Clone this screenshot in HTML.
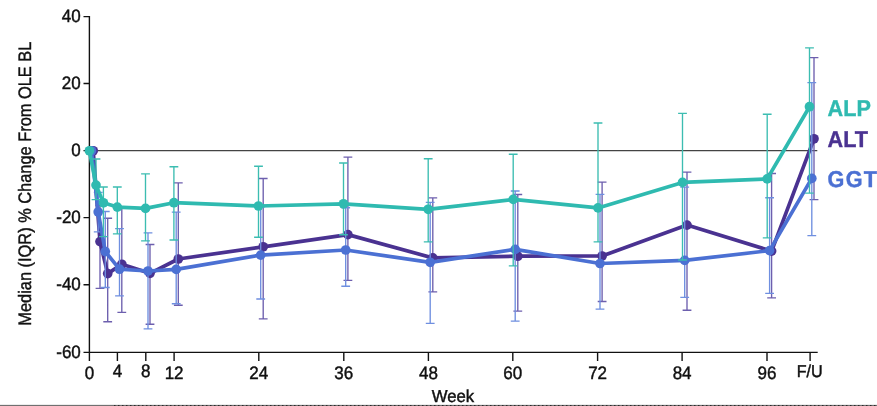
<!DOCTYPE html>
<html><head><meta charset="utf-8"><title>Chart</title>
<style>html,body{margin:0;padding:0;background:#fff;}body{width:877px;height:406px;position:relative;overflow:hidden;}</style>
</head><body>
<svg width="877" height="406" viewBox="0 0 877 406" style="position:absolute;left:0;top:0">
<line x1="89.4" y1="150.65" x2="817.3" y2="150.65" stroke="#444" stroke-width="1.3"/>
<path d="M89.4 15.95V353.1M83.5 352.4H817.7M83.5 16.65H89.4M83.5 83.55H89.4M83.5 150.6H89.4M83.5 217.65H89.4M83.5 284.8H89.4M89.4 352.4V360.9M117.4 352.4V360.9M145.8 352.4V360.9M174.1 352.4V360.9M258.8 352.4V360.9M343.8 352.4V360.9M428.4 352.4V360.9M512.8 352.4V360.9M597.6 352.4V360.9M682.1 352.4V360.9M767.0 352.4V360.9M810.1 352.4V360.9" fill="none" stroke="#111" stroke-width="1.4"/>
<path d="M100.0 205.3V288.4M95.6 205.3h8.8M95.6 288.4h8.8M107.7 218.2V321.7M103.3 218.2h8.8M103.3 321.7h8.8M121.8 208.3V312.4M117.4 208.3h8.8M117.4 312.4h8.8M150.0 244.5V324.2M145.6 244.5h8.8M145.6 324.2h8.8M178.3 182.8V305.2M173.9 182.8h8.8M173.9 305.2h8.8M263.2 178.5V318.9M258.8 178.5h8.8M258.8 318.9h8.8M347.9 157.1V280.4M343.5 157.1h8.8M343.5 280.4h8.8M432.8 197.9V291.8M428.4 197.9h8.8M428.4 291.8h8.8M517.8 194.5V311.1M513.4 194.5h8.8M513.4 311.1h8.8M602.1 182.1V301.5M597.7 182.1h8.8M597.7 301.5h8.8M687.0 172.1V310.2M682.6 172.1h8.8M682.6 310.2h8.8M771.6 173.5V297.8M767.2 173.5h8.8M767.2 297.8h8.8M814.0 57.6V199.6M809.6 57.6h8.8M809.6 199.6h8.8" fill="none" stroke="#6d5fae" stroke-width="1.35"/>
<polyline points="93.2,150.8 100.0,241.6 107.7,273.6 121.8,264.3 150.0,273.3 178.3,259.0 263.2,246.8 347.9,234.6 432.8,257.9 517.8,256.2 602.1,256.0 687.0,225.1 771.6,251.1 814.0,138.8" fill="none" stroke="#4a3291" stroke-width="3.7" stroke-linejoin="round" stroke-linecap="round"/>
<circle cx="93.2" cy="150.8" r="4.85" fill="#4a3291"/>
<circle cx="100.0" cy="241.6" r="4.85" fill="#4a3291"/>
<circle cx="107.7" cy="273.6" r="4.85" fill="#4a3291"/>
<circle cx="121.8" cy="264.3" r="4.85" fill="#4a3291"/>
<circle cx="150.0" cy="273.3" r="4.85" fill="#4a3291"/>
<circle cx="178.3" cy="259.0" r="4.85" fill="#4a3291"/>
<circle cx="263.2" cy="246.8" r="4.85" fill="#4a3291"/>
<circle cx="347.9" cy="234.6" r="4.85" fill="#4a3291"/>
<circle cx="432.8" cy="257.9" r="4.85" fill="#4a3291"/>
<circle cx="517.8" cy="256.2" r="4.85" fill="#4a3291"/>
<circle cx="602.1" cy="256.0" r="4.85" fill="#4a3291"/>
<circle cx="687.0" cy="225.1" r="4.85" fill="#4a3291"/>
<circle cx="771.6" cy="251.1" r="4.85" fill="#4a3291"/>
<circle cx="814.0" cy="138.8" r="4.85" fill="#4a3291"/>
<path d="M98.2 192.3V231.8M93.8 192.3h8.8M93.8 231.8h8.8M105.3 211.5V287.5M100.9 211.5h8.8M100.9 287.5h8.8M119.5 228.6V295.8M115.1 228.6h8.8M115.1 295.8h8.8M148.0 232.8V328.8M143.6 232.8h8.8M143.6 328.8h8.8M176.2 212.1V303.7M171.8 212.1h8.8M171.8 303.7h8.8M260.7 206.8V299.0M256.3 206.8h8.8M256.3 299.0h8.8M345.7 207.7V286.2M341.3 207.7h8.8M341.3 286.2h8.8M430.2 202.4V323.3M425.8 202.4h8.8M425.8 323.3h8.8M515.2 191.0V321.1M510.8 191.0h8.8M510.8 321.1h8.8M600.0 194.3V309.1M595.6 194.3h8.8M595.6 309.1h8.8M684.7 187.1V297.4M680.3 187.1h8.8M680.3 297.4h8.8M769.6 197.7V293.3M765.2 197.7h8.8M765.2 293.3h8.8M811.8 82.6V235.6M807.4 82.6h8.8M807.4 235.6h8.8" fill="none" stroke="#6f8fe0" stroke-width="1.35"/>
<polyline points="91.5,150.8 98.2,212.0 105.3,251.6 119.5,269.2 148.0,271.0 176.2,269.4 260.7,255.1 345.7,250.0 430.2,262.3 515.2,249.4 600.0,263.5 684.7,260.4 769.6,250.6 811.8,178.4" fill="none" stroke="#4b70d3" stroke-width="3.7" stroke-linejoin="round" stroke-linecap="round"/>
<circle cx="91.5" cy="150.8" r="4.85" fill="#4b70d3"/>
<circle cx="98.2" cy="212.0" r="4.85" fill="#4b70d3"/>
<circle cx="105.3" cy="251.6" r="4.85" fill="#4b70d3"/>
<circle cx="119.5" cy="269.2" r="4.85" fill="#4b70d3"/>
<circle cx="148.0" cy="271.0" r="4.85" fill="#4b70d3"/>
<circle cx="176.2" cy="269.4" r="4.85" fill="#4b70d3"/>
<circle cx="260.7" cy="255.1" r="4.85" fill="#4b70d3"/>
<circle cx="345.7" cy="250.0" r="4.85" fill="#4b70d3"/>
<circle cx="430.2" cy="262.3" r="4.85" fill="#4b70d3"/>
<circle cx="515.2" cy="249.4" r="4.85" fill="#4b70d3"/>
<circle cx="600.0" cy="263.5" r="4.85" fill="#4b70d3"/>
<circle cx="684.7" cy="260.4" r="4.85" fill="#4b70d3"/>
<circle cx="769.6" cy="250.6" r="4.85" fill="#4b70d3"/>
<circle cx="811.8" cy="178.4" r="4.85" fill="#4b70d3"/>
<path d="M96.0 159.0V199.6M91.6 159.0h8.8M91.6 199.6h8.8M103.4 187.0V236.6M99.0 187.0h8.8M99.0 236.6h8.8M117.3 187.0V233.8M112.9 187.0h8.8M112.9 233.8h8.8M145.5 173.9V240.8M141.1 173.9h8.8M141.1 240.8h8.8M173.9 166.7V240.0M169.5 166.7h8.8M169.5 240.0h8.8M258.5 166.2V237.2M254.1 166.2h8.8M254.1 237.2h8.8M343.5 163.0V234.7M339.1 163.0h8.8M339.1 234.7h8.8M428.2 158.7V241.9M423.8 158.7h8.8M423.8 241.9h8.8M513.2 154.2V265.8M508.8 154.2h8.8M508.8 265.8h8.8M598.0 123.0V241.9M593.6 123.0h8.8M593.6 241.9h8.8M682.5 113.3V260.0M678.1 113.3h8.8M678.1 260.0h8.8M767.2 114.2V237.9M762.8 114.2h8.8M762.8 237.9h8.8M809.5 47.8V193.1M805.1 47.8h8.8M805.1 193.1h8.8" fill="none" stroke="#3cbdb1" stroke-width="1.35"/>
<polyline points="89.4,150.8 96.0,185.1 103.4,202.8 117.3,207.1 145.5,208.4 173.9,202.7 258.5,206.0 343.5,203.8 428.2,209.3 513.2,199.4 598.0,207.9 682.5,182.4 767.2,178.9 809.5,106.7" fill="none" stroke="#2fbab0" stroke-width="3.7" stroke-linejoin="round" stroke-linecap="round"/>
<circle cx="89.4" cy="150.8" r="4.85" fill="#2fbab0"/>
<circle cx="96.0" cy="185.1" r="4.85" fill="#2fbab0"/>
<circle cx="103.4" cy="202.8" r="4.85" fill="#2fbab0"/>
<circle cx="117.3" cy="207.1" r="4.85" fill="#2fbab0"/>
<circle cx="145.5" cy="208.4" r="4.85" fill="#2fbab0"/>
<circle cx="173.9" cy="202.7" r="4.85" fill="#2fbab0"/>
<circle cx="258.5" cy="206.0" r="4.85" fill="#2fbab0"/>
<circle cx="343.5" cy="203.8" r="4.85" fill="#2fbab0"/>
<circle cx="428.2" cy="209.3" r="4.85" fill="#2fbab0"/>
<circle cx="513.2" cy="199.4" r="4.85" fill="#2fbab0"/>
<circle cx="598.0" cy="207.9" r="4.85" fill="#2fbab0"/>
<circle cx="682.5" cy="182.4" r="4.85" fill="#2fbab0"/>
<circle cx="767.2" cy="178.9" r="4.85" fill="#2fbab0"/>
<circle cx="809.5" cy="106.7" r="4.85" fill="#2fbab0"/>
<g font-family="Liberation Sans, Arial, sans-serif" font-size="18.0" fill="#111" stroke="#111" stroke-width="0.45" text-rendering="geometricPrecision">
<text transform="translate(80.8 22.15) scale(0.945 1)" text-anchor="end">40</text>
<text transform="translate(80.8 89.05) scale(0.945 1)" text-anchor="end">20</text>
<text transform="translate(80.8 156.10) scale(0.945 1)" text-anchor="end">0</text>
<text transform="translate(80.8 223.15) scale(0.945 1)" text-anchor="end">-20</text>
<text transform="translate(80.8 290.30) scale(0.945 1)" text-anchor="end">-40</text>
<text transform="translate(80.8 357.90) scale(0.945 1)" text-anchor="end">-60</text>
<text transform="translate(89.4 378.8) scale(0.945 1)" text-anchor="middle">0</text>
<text transform="translate(117.4 376.7) scale(0.945 1)" text-anchor="middle">4</text>
<text transform="translate(145.8 376.7) scale(0.945 1)" text-anchor="middle">8</text>
<text transform="translate(174.1 378.8) scale(0.945 1)" text-anchor="middle">12</text>
<text transform="translate(258.8 378.8) scale(0.945 1)" text-anchor="middle">24</text>
<text transform="translate(343.8 378.8) scale(0.945 1)" text-anchor="middle">36</text>
<text transform="translate(428.4 378.8) scale(0.945 1)" text-anchor="middle">48</text>
<text transform="translate(512.8 378.8) scale(0.945 1)" text-anchor="middle">60</text>
<text transform="translate(597.6 378.8) scale(0.945 1)" text-anchor="middle">72</text>
<text transform="translate(682.1 378.8) scale(0.945 1)" text-anchor="middle">84</text>
<text transform="translate(767.0 378.8) scale(0.945 1)" text-anchor="middle">96</text>
<text transform="translate(809.7 377.1) scale(0.937 1)" font-size="17.2" text-anchor="middle">F/U</text>
<text transform="translate(453.0 401.9) scale(0.968 1)" font-size="17.3" text-anchor="middle">Week</text>
<text transform="translate(30.7 183.7) rotate(-90) scale(0.91 1)" text-anchor="middle" font-size="18">Median (IQR) % Change From OLE BL</text>
</g>
<g font-family="Liberation Sans, Arial, sans-serif" font-size="23" font-weight="bold" text-rendering="geometricPrecision">
<text transform="translate(827.6 116.0) scale(0.94 1)" fill="#2fbab0" stroke="#2fbab0" stroke-width="0.4" letter-spacing="0">ALP</text>
<text transform="translate(827.6 146.7) scale(0.94 1)" fill="#4a3291" stroke="#4a3291" stroke-width="0.4" letter-spacing="0">ALT</text>
<text transform="translate(827.6 187.4) scale(0.94 1)" fill="#4b70d3" stroke="#4b70d3" stroke-width="0.4" letter-spacing="1.4">GGT</text>
</g>
<rect x="0" y="404" width="877" height="1" fill="#ececec"/><rect x="0" y="405" width="877" height="1" fill="#707070"/><line x1="114" y1="405.5" x2="877" y2="405.5" stroke="#2a2a2a" stroke-width="1" stroke-dasharray="1.5 2.5"/>
</svg>
</body></html>
